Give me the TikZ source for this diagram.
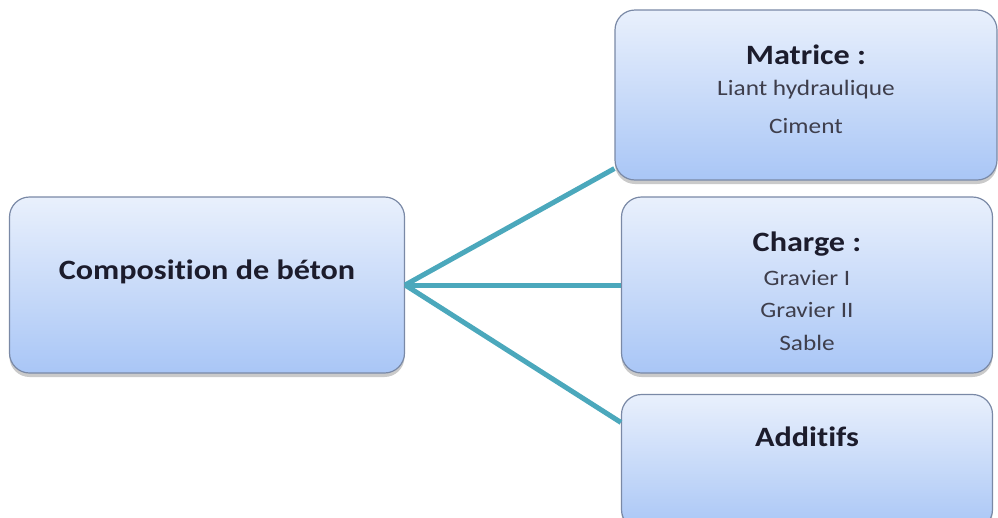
\documentclass[tikz,border=0pt]{standalone}
\usepackage{fontspec}
\setmainfont{Carlito}[FakeStretch=1.15,Ligatures=NoCommon]
\usetikzlibrary{positioning,shadows}

\definecolor{boxtop}{HTML}{E9F0FC}
\definecolor{boxbot}{HTML}{A9C6F6}
\definecolor{boxline}{HTML}{7A89A6}
\definecolor{liencol}{HTML}{4BA8BC}
\definecolor{texte}{HTML}{1C1C2C}

\tikzset{
  bloc/.style={rectangle, rounded corners=20pt, draw=boxline, line width=1.2pt,
    top color=boxtop, bottom color=boxbot, inner sep=0pt,
    drop shadow={shadow xshift=0pt, shadow yshift=-4pt, opacity=0.35, fill=black!60}},
  titre/.style={font=\fontsize{28}{32}\selectfont\bfseries, text=texte},
  liste/.style={font=\fontsize{22}{26}\selectfont, text=texte!85},
  lien/.style={draw=liencol, line width=5pt}
}

\begin{document}
\begin{tikzpicture}[x=1pt,y=-1pt,node distance=34pt,on grid]
  \useasboundingbox (0,0) rectangle (998,517);
  \clip (0,0) rectangle (998,517);
  \node[bloc,minimum width=395pt,minimum height=176pt] (beton)    at (207,285) {};
  \node[bloc,minimum width=382pt,minimum height=170pt] (matrice)  at (806,95)  {};
  \node[bloc,minimum width=371pt,minimum height=176pt] (charge)   at (807,285) {};
  \node[bloc,minimum width=371pt,minimum height=135pt] (additifs) at (807,462) {};

  \node[titre] (beton_t)    at ([yshift=13pt]beton.center)    {Composition de béton};

  \node[titre] (matrice_t)  at ([yshift=-45pt]matrice.north)  {Matrice :};
  \node[liste] (matrice_1)  [below=35pt of matrice_t]  {Liant hydraulique};
  \node[liste] (matrice_2)  [below=37pt of matrice_1]  {Ciment};

  \node[titre] (charge_t)   at ([yshift=-48pt]charge.north)   {Charge :};
  \node[liste] (charge_1)   [below=of charge_t]  {Gravier I};
  \node[liste] (charge_2)   [below=32pt of charge_1]  {Gravier II};
  \node[liste] (charge_3)   [below=33pt of charge_2]  {Sable};

  \node[titre] (additifs_t) at ([yshift=-43pt]additifs.north) {Additifs};

  \path[lien]
    (beton.east) edge (matrice.201)
    (beton.east) edge (charge.west)
    (beton.east) edge (additifs.168);
\end{tikzpicture}
\end{document}
